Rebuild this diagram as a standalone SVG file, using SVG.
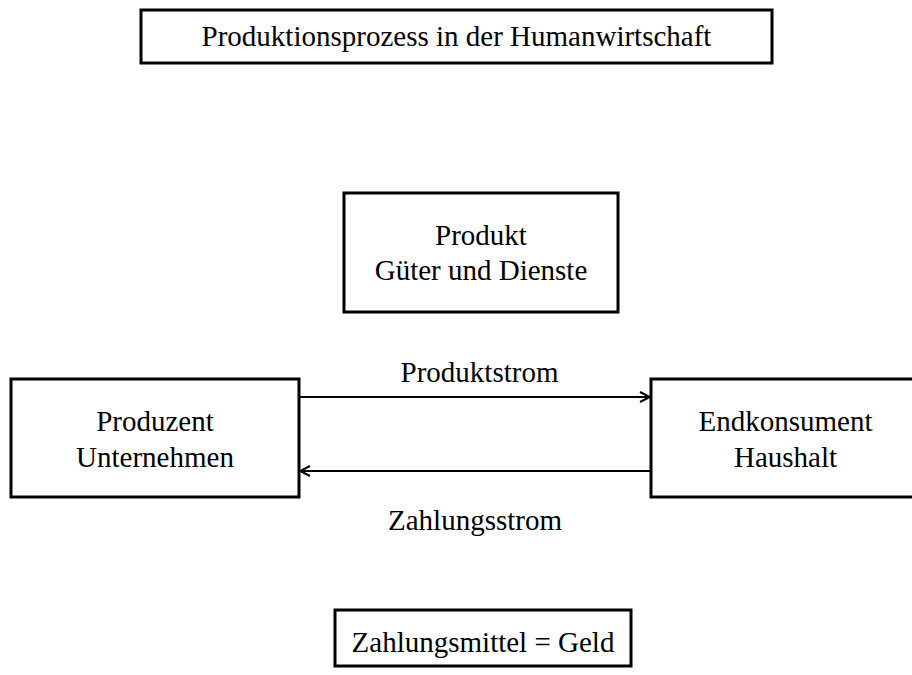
<svg xmlns="http://www.w3.org/2000/svg" width="912" height="675" viewBox="0 0 912 675">
<style>
.box{fill:#fff;stroke:#000;stroke-width:3}
.t{font-family:"Liberation Serif","Times New Roman",serif;font-size:29px;fill:#000;text-anchor:middle}
.conn{stroke:#000;stroke-width:2;fill:none}
</style>
<defs>
<marker id="arr" viewBox="0 0 12 12" refX="11" refY="6" markerWidth="12" markerHeight="12" markerUnits="userSpaceOnUse" orient="auto">
<path d="M1,1 L11,6 L1,11" fill="none" stroke="#000" stroke-width="2"/>
</marker>
</defs>
<rect width="912" height="675" fill="#fff"/>
<g id="title">
<rect class="box" x="141" y="10" width="631" height="53"/>
<text class="t" x="456.5" y="46">Produktionsprozess in der Humanwirtschaft</text>
</g>
<g id="produkt">
<rect class="box" x="344" y="193" width="274" height="119"/>
<text class="t" x="481" y="245">Produkt</text>
<text class="t" x="481" y="280">Güter und Dienste</text>
</g>
<g id="produzent">
<rect class="box" x="11" y="379" width="288" height="118"/>
<text class="t" x="155" y="431">Produzent</text>
<text class="t" x="155" y="467">Unternehmen</text>
</g>
<g id="endkonsument">
<rect class="box" x="651" y="379" width="270" height="118"/>
<text class="t" x="785.5" y="431">Endkonsument</text>
<text class="t" x="785.5" y="467">Haushalt</text>
</g>
<g id="zahlungsmittel">
<rect class="box" x="335" y="610" width="296" height="56"/>
<text class="t" x="483" y="652">Zahlungsmittel = Geld</text>
</g>
<g id="connectors">
<line class="conn" x1="299" y1="397" x2="650" y2="397" marker-end="url(#arr)"/>
<line class="conn" x1="651" y1="471" x2="300" y2="471" marker-end="url(#arr)"/>
<text class="t" x="479.5" y="382">Produktstrom</text>
<text class="t" x="475" y="530">Zahlungsstrom</text>
</g>
</svg>
